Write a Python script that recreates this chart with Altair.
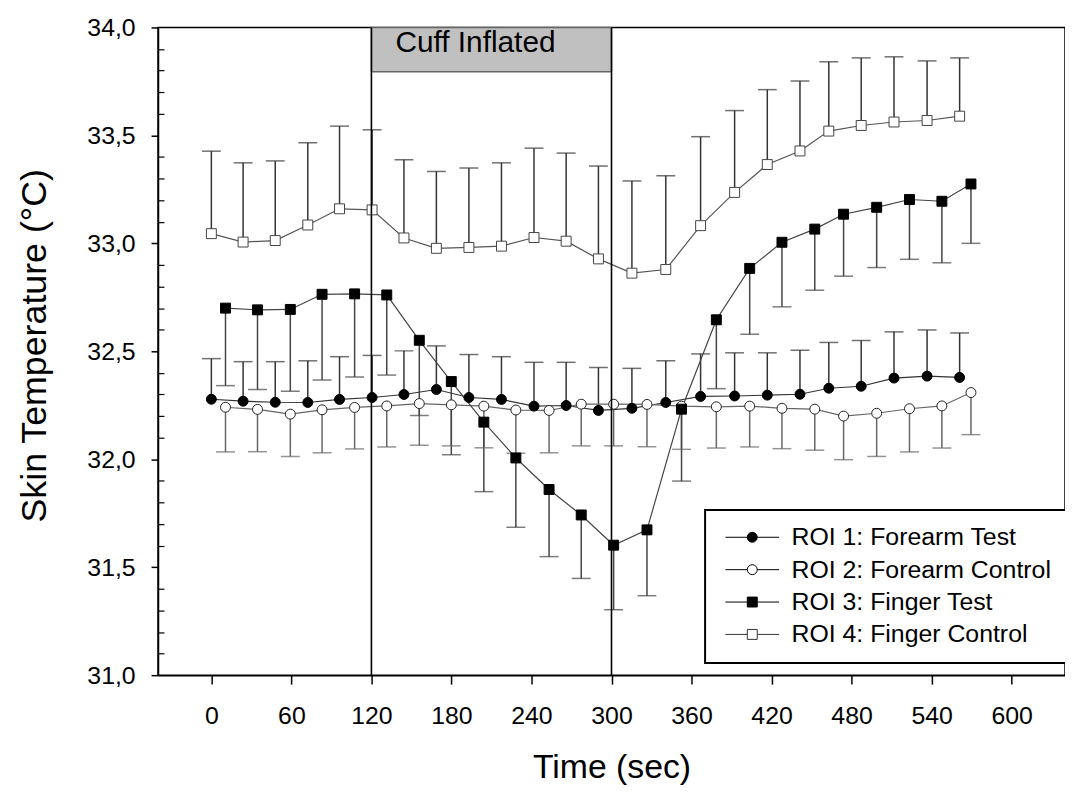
import altair as alt
import pandas as pd

FONT = "Arial, Liberation Sans, sans-serif"

SERIES = ["ROI 1: Forearm Test", "ROI 2: Forearm Control",
          "ROI 3: Finger Test", "ROI 4: Finger Control"]

# sampling times (sec)
time_a = [0, 23.8, 47.9, 72.3, 96.1, 120.5, 144.4, 168.7, 193.1, 217.5, 241.9, 266.0,
          290.2, 315.3, 340.7, 366.8, 392.3, 416.8, 441.3, 462.9, 487.2, 511.8, 536.6, 561.0]
time_b = [10.6, 34.6, 59.2, 83.0, 107.4, 131.5, 155.9, 179.9, 204.3, 228.3, 253.2, 277.3,
          301.6, 326.6, 352.5, 378.6, 403.6, 427.8, 452.4, 474.0, 498.8, 523.4, 547.7, 569.5]

roi1_mean = [32.278, 32.269, 32.264, 32.263, 32.277, 32.286, 32.300, 32.323, 32.286, 32.277, 32.246, 32.249,
             32.226, 32.236, 32.263, 32.291, 32.293, 32.297, 32.301, 32.329, 32.338, 32.376, 32.385, 32.379]
roi1_sd = [0.188, 0.183, 0.188, 0.193, 0.198, 0.195, 0.202, 0.202, 0.199, 0.198, 0.203, 0.200,
           0.199, 0.185, 0.193, 0.197, 0.200, 0.196, 0.204, 0.212, 0.212, 0.214, 0.214, 0.206]

roi2_mean = [32.241, 32.231, 32.209, 32.229, 32.240, 32.247, 32.258, 32.252, 32.246, 32.228, 32.226, 32.255,
             32.255, 32.254, 32.246, 32.243, 32.246, 32.236, 32.232, 32.200, 32.213, 32.234, 32.247, 32.309]
roi2_sd = [0.207, 0.196, 0.196, 0.199, 0.192, 0.190, 0.193, 0.190, 0.193, 0.200, 0.196, 0.193,
           0.193, 0.196, 0.200, 0.191, 0.189, 0.187, 0.190, 0.202, 0.200, 0.200, 0.195, 0.195]

roi3_mean = [32.700, 32.692, 32.694, 32.764, 32.766, 32.761, 32.551, 32.360, 32.172, 32.006, 31.860, 31.742,
             31.602, 31.673, 32.232, 32.646, 32.884, 33.005, 33.066, 33.135, 33.167, 33.203, 33.195, 33.275]
roi3_sd = [0.359, 0.369, 0.379, 0.397, 0.385, 0.371, 0.348, 0.339, 0.322, 0.321, 0.311, 0.294,
           0.299, 0.305, 0.333, 0.319, 0.305, 0.299, 0.283, 0.287, 0.279, 0.277, 0.285, 0.275]

roi4_mean = [33.045, 33.006, 33.013, 33.085, 33.160, 33.155, 33.025, 32.977, 32.981, 32.987, 33.027, 33.010,
             32.928, 32.862, 32.879, 33.082, 33.236, 33.365, 33.428, 33.520, 33.546, 33.562, 33.569, 33.589]
roi4_sd = [0.382, 0.367, 0.369, 0.381, 0.383, 0.371, 0.362, 0.356, 0.368, 0.386, 0.414, 0.408,
           0.430, 0.427, 0.434, 0.412, 0.379, 0.347, 0.324, 0.321, 0.313, 0.302, 0.276, 0.270]

# error bar direction: +1 upward, -1 downward
bar_dir = [1, -1, -1, 1]

x_ticks = [0, 60, 120, 180, 240, 300, 360, 420, 480, 540, 600]
y_ticks = [31.0, 31.5, 32.0, 32.5, 33.0, 33.5, 34.0]
y_minor = [31.1, 31.2, 31.3, 31.4, 31.6, 31.7, 31.8, 31.9, 32.1, 32.2, 32.3, 32.4,
           32.6, 32.7, 32.8, 32.9, 33.1, 33.2, 33.3, 33.4, 33.6, 33.7, 33.8, 33.9]

cuff_start = [120]
cuff_end = [300]
cuff_bottom = [33.795]
cuff_top = [34.0]
cuff_label = ["Cuff Inflated"]
cuff_label_x = [198]
cuff_label_y = [33.884]

# ---------------------------------------------------------------
series_data = [
    (SERIES[0], time_a, roi1_mean, roi1_sd),
    (SERIES[1], time_b, roi2_mean, roi2_sd),
    (SERIES[2], time_b, roi3_mean, roi3_sd),
    (SERIES[3], time_a, roi4_mean, roi4_sd),
]
rows = []
for (name, t, m, s), d in zip(series_data, bar_dir):
    for ti, mi, si in zip(t, m, s):
        rows.append({"series": name, "time": ti, "mean": mi, "end": round(mi + d * si, 4)})
df = pd.DataFrame(rows)

styles = {
    SERIES[0]: dict(shape="circle", fill="black", stroke="black", line="#333333", bar="#333333"),
    SERIES[1]: dict(shape="circle", fill="white", stroke="#222222", line="#666666", bar="#666666"),
    SERIES[2]: dict(shape="square", fill="black", stroke="black", line="#444444", bar="#444444"),
    SERIES[3]: dict(shape="square", fill="white", stroke="#444444", line="#555555", bar="#333333"),
}

x_scale = alt.Scale(domain=[-40, 640], nice=False, zero=False)
y_scale = alt.Scale(domain=[31, 34], nice=False, zero=False)

x_axis = alt.Axis(orient="bottom", values=x_ticks, grid=False, tickSize=9, tickWidth=1.5,
                  tickColor="black", domainColor="black", domainWidth=1.5,
                  labelFont=FONT, labelFontSize=25, labelColor="black", labelPadding=20,
                  labelFlush=False, labelOverlap=False,
                  title="Time (sec)", titleFont=FONT, titleFontSize=34, titleFontWeight="normal",
                  titleColor="black", titleY=103, titleBaseline="alphabetic")
y_axis = alt.Axis(orient="left", values=y_ticks, grid=False, tickSize=7, tickWidth=1.5,
                  tickColor="black", domainColor="black", domainWidth=1.5,
                  labelFont=FONT, labelFontSize=25, labelColor="black", labelPadding=16,
                  labelExpr="replace(format(datum.value, '.1f'), '.', ',')",
                  title="Skin Temperature (°C)", titleFont=FONT, titleFontSize=36,
                  titleFontWeight="normal", titleColor="black", titleX=-113, titleY=320,
                  titleAngle=270, titleBaseline="alphabetic", titleAlign="center")
y_minor_axis = alt.Axis(orient="left", values=y_minor, grid=False, tickSize=6, offset=-6,
                        tickWidth=1.2, tickColor="black", domain=False, labels=False, title=None)

X = lambda f: alt.X(f, type="quantitative", scale=x_scale, axis=x_axis)
Y = lambda f, axis=None: alt.Y(f, type="quantitative", scale=y_scale, axis=axis)

cuff_df = pd.DataFrame({"x0": cuff_start, "x1": cuff_end, "y0": cuff_bottom, "y1": cuff_top})
cuff_rect = alt.Chart(cuff_df).mark_rect(fill="#c0c0c0", stroke="#666666", strokeWidth=1.5).encode(
    x=X("x0"), x2="x1", y=Y("y0", y_minor_axis), y2="y1")

vlines_df = pd.DataFrame({"t": cuff_start + cuff_end})
vlines = alt.Chart(vlines_df).mark_rule(color="black", strokeWidth=1.6).encode(x=X("t"))

label_df = pd.DataFrame({"x": cuff_label_x, "y": cuff_label_y, "text": cuff_label})
cuff_text = alt.Chart(label_df).mark_text(font=FONT, fontSize=30, color="black", align="center",
                                           baseline="alphabetic").encode(
    x=X("x"), y=Y("y"), text="text:N")

bar_layers, cap_layers, line_layers, pt_layers = [], [], [], []
for i, name in enumerate(SERIES):
    st = styles[name]
    base = alt.Chart(df[df["series"] == name])
    bar_layers.append(base.mark_rule(color=st["bar"], strokeWidth=1.5).encode(
        x=X("time"), y=Y("mean"), y2="end"))
    cap_layers.append(base.mark_tick(orient="horizontal", size=19, thickness=1.5, color=st["bar"]).encode(
        x=X("time"), y=Y("end")))
    line_layers.append(base.mark_line(color=st["line"], strokeWidth=1.2).encode(
        x=X("time"), y=Y("mean", y_axis if i == 0 else None)))
    pt_layers.append(base.mark_point(shape=st["shape"], filled=True, fill=st["fill"], stroke=st["stroke"],
                                     strokeWidth=1, size=100, opacity=1).encode(
        x=X("time"), y=Y("mean")))

# legend symbols: line + marker
legend_paths = [
    "M-5.4,0H5.4M-1,0A1,1 0 1,0 1,0A1,1 0 1,0 -1,0Z",
    "M-5.4,0H-1M1,0H5.4M-1,0A1,1 0 1,0 1,0A1,1 0 1,0 -1,0Z",
    "M-5.4,0H5.4M-1,-1H1V1H-1Z",
    "M-5.4,0H-1M1,0H5.4M-1,-1H1V1H-1Z",
]
legend_layer = alt.Chart(df).mark_point(filled=True, opacity=0, size=100).encode(
    x=X("time"), y=Y("mean"),
    fill=alt.Fill("series:N", scale=alt.Scale(domain=SERIES, range=["black", "white", "black", "white"]),
                  legend=alt.Legend(title=None)),
    stroke=alt.Stroke("series:N", scale=alt.Scale(domain=SERIES, range=["black", "black", "black", "#333333"]),
                      legend=alt.Legend(title=None)),
    shape=alt.Shape("series:N", scale=alt.Scale(domain=SERIES, range=legend_paths),
                    legend=alt.Legend(title=None)),
)

chart = alt.layer(
    cuff_rect, *bar_layers, *cap_layers, *line_layers, *pt_layers, vlines, cuff_text, legend_layer
).resolve_axis(y="independent").properties(
    width=913, height=652,
    autosize=alt.AutoSizeParams(type="none"),
    padding={"left": 151, "top": 17, "right": 0, "bottom": 110},
    background="white",
).configure_view(stroke="black", strokeWidth=1.5).configure_legend(
    orient="none", legendX=550.7, legendY=485.7, padding=15,
    strokeColor="black", strokeWidth=2, fillColor="white",
    labelFont=FONT, labelFontSize=25, labelColor="black", labelLimit=400,
    symbolOffset=20, labelOffset=27, rowPadding=6.6,
    symbolSize=100, symbolStrokeWidth=1, symbolOpacity=1,
)

chart.save("out.html", embed_options={"renderer": "svg", "actions": False})
